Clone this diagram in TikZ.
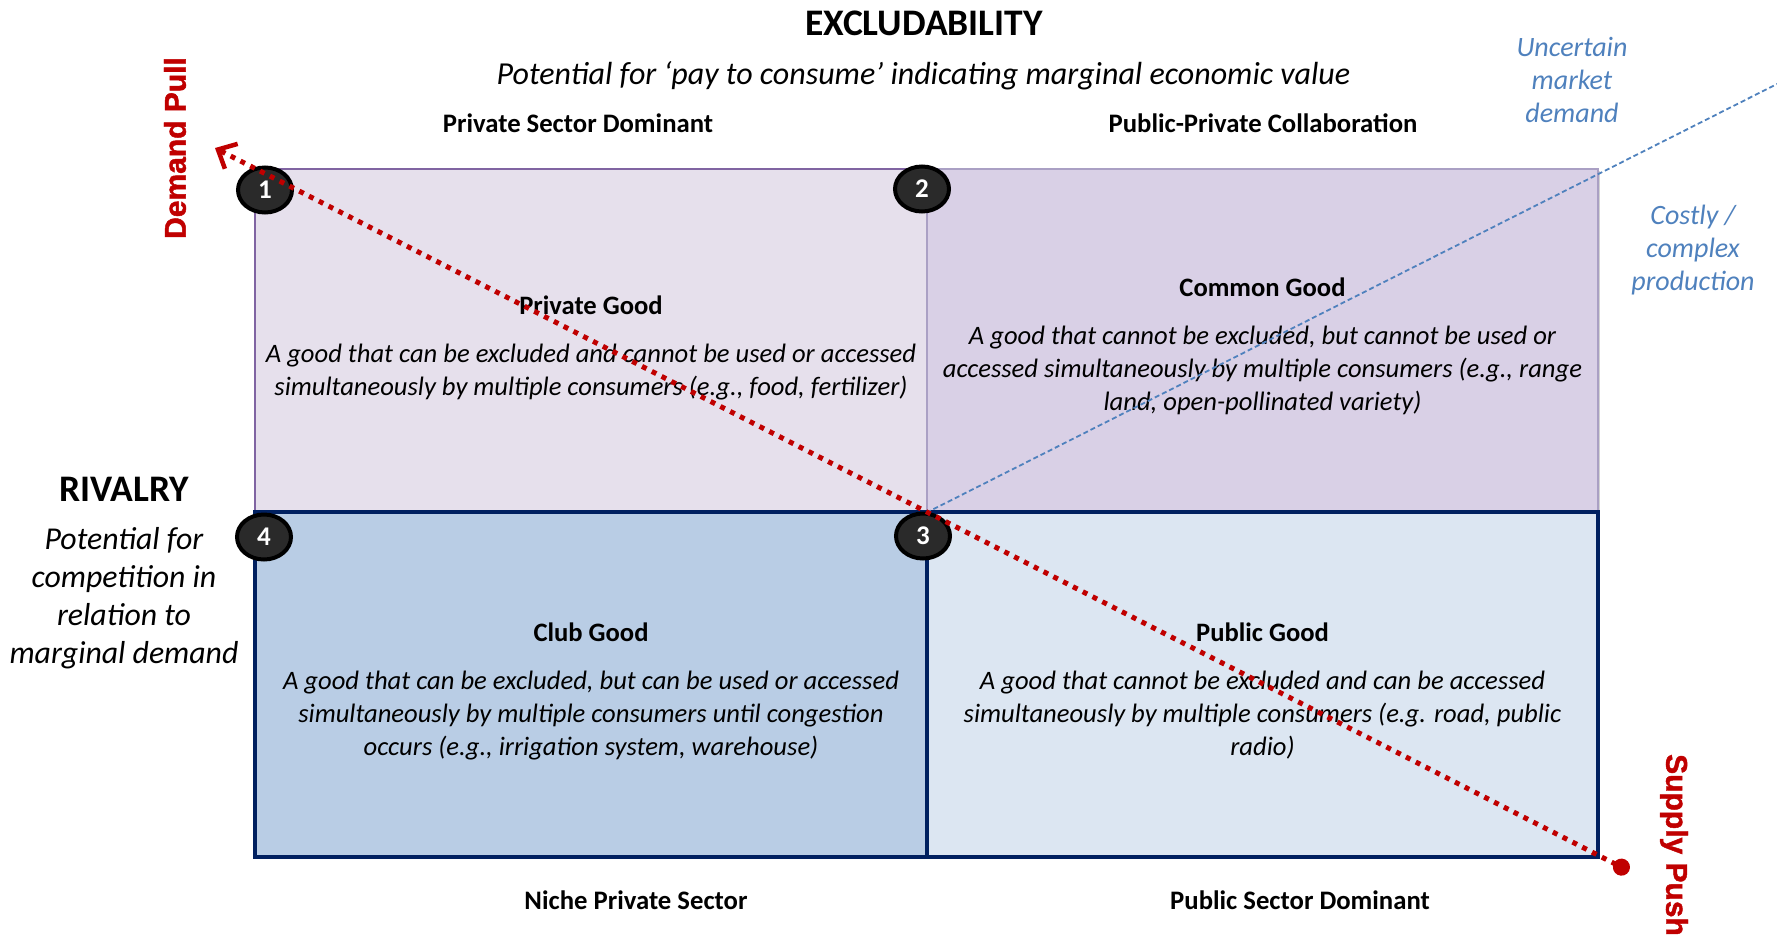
\documentclass[tikz,border=0pt]{standalone}
\usepackage{fontspec}
\setmainfont{Carlito}
\newfontfamily\pushfont[FakeBold=1.5]{Liberation Sans Bold}
\usetikzlibrary{arrows.meta,shapes.geometric,shadows,positioning}

\definecolor{privfill}{RGB}{230,224,236}
\definecolor{privline}{RGB}{128,100,162}
\definecolor{commfill}{RGB}{217,208,230}
\definecolor{commline}{RGB}{170,160,196}
\definecolor{clubfill}{RGB}{185,205,229}
\definecolor{pubfill}{RGB}{220,230,242}
\definecolor{navy}{RGB}{0,32,96}
\definecolor{pullred}{RGB}{192,0,0}
\definecolor{noteblue}{RGB}{79,129,189}
\definecolor{badge}{RGB}{42,42,42}

\begin{document}
\begin{tikzpicture}[x=10pt,y=10pt]
\tikzstyle{every node}+=[inner sep=0pt]
\tikzstyle{cell}=[rectangle,minimum width=672pt,minimum height=343pt]
\tikzstyle{badgenode}=[ellipse,minimum width=54pt,minimum height=45pt,fill=badge,draw=black,line width=4pt,text=white,font=\fontsize{27}{27}\selectfont\bfseries]
\tikzstyle{desc}=[align=center,font=\fontsize{26.6}{33}\selectfont\itshape]
\tikzstyle{axis}=[font=\fontsize{37.5}{37.5}\selectfont\bfseries]
\tikzstyle{sector}=[font=\fontsize{26.7}{26.7}\selectfont\bfseries]
\tikzstyle{note}=[align=center,text=noteblue,font=\fontsize{28}{33}\selectfont\itshape]
\tikzstyle{force}=[text=pullred,font=\fontsize{30}{30}\selectfont\pushfont]
\useasboundingbox (0,0) rectangle (177.7,-93.5);

% quadrants
\draw (59.1,-34.05) node [cell,fill=privfill,draw=privline,line width=1.5pt] (privcell) {};
\draw (126.25,-34.05) node [cell,minimum width=671pt,fill=commfill,draw=commline,line width=1.5pt,
  drop shadow={shadow xshift=2pt,shadow yshift=-2pt,opacity=0.35}] (commcell) {};
\draw (59.1,-68.45) node [cell,minimum height=345pt,fill=clubfill,draw=navy,line width=3.5pt] (clubcell) {};
\draw (126.25,-68.45) node [cell,minimum width=671pt,minimum height=345pt,fill=pubfill,draw=navy,line width=3.5pt] (pubcell) {};

% headings
\draw (92.4,-2.35) node [axis] (excl) {EXCLUDABILITY};
\draw (92.35,-7.6) node [font=\fontsize{32}{32}\selectfont\itshape] (exclsub) {Potential for ‘pay to consume’ indicating marginal economic value};
\draw (57.8,-12.3) node [sector] (topleft) {Private Sector Dominant};
\draw (126.3,-12.3) node [sector] (topright) {Public-Private Collaboration};
\draw (63.6,-90.0) node [sector] (botleft) {Niche Private Sector};
\draw (130.0,-90.0) node [sector] (botright) {Public Sector Dominant};
\draw (12.4,-48.9) node [axis] (riv) {RIVALRY};
\draw (12.4,-59.85) node [align=center,font=\fontsize{31.8}{38}\selectfont\itshape] (rivsub) {Potential for\\competition in\\relation to\\marginal demand};
\draw (157.2,-8.0) node [note] (uncert) {Uncertain\\market\\demand};
\draw (169.3,-25.0) node [note] (costly) {Costly /\\complex\\production};
\draw (17.5,-14.8) node [force,rotate=90] (pulltxt) {Demand Pull};
\draw (167.4,-84.5) node [force,rotate=-90] (pushtxt) {Supply Push};

% quadrant texts
\draw (59.1,-34.75) node [desc] (privtxt) {{\bfseries\upshape Private Good}\\[15pt]
  A good that can be excluded and cannot be used or accessed\\
  simultaneously by multiple consumers (e.g., food, fertilizer)};
\draw (126.25,-34.65) node [desc] (commtxt) {{\bfseries\upshape Common Good}\\[15pt]
  A good that cannot be excluded, but cannot be used or\\
  accessed simultaneously by multiple consumers (e.g., range\\
  land, open-pollinated variety)};
\draw (59.1,-69.1) node [desc] (clubtxt) {{\bfseries\upshape Club Good}\\[15pt]
  A good that can be excluded, but can be used or accessed\\
  simultaneously by multiple consumers until congestion\\
  occurs (e.g., irrigation system, warehouse)};
\draw (126.25,-69.1) node [desc] (pubtxt) {{\bfseries\upshape Public Good}\\[15pt]
  A good that cannot be excluded and can be accessed\\
  simultaneously by multiple consumers (e.g. road, public\\
  radio)};

% numbered corners
\draw (26.5,-19.0) node [badgenode] (n1) {1};
\draw (92.2,-18.9) node [badgenode] (n2) {2};
\draw (92.3,-53.6) node [badgenode] (n3) {3};
\draw (26.4,-53.7) node [badgenode] (n4) {4};

% demand pull / supply push
\coordinate (pull) at (21.5,-14.8);
\coordinate (push) at (162.9,-87.1);
\coordinate (far) at (177.7,-8.4);
\draw [noteblue,line width=1.8pt,dash pattern=on 5pt off 3pt] (commcell.south west) -- (far);
\draw [pullred,line width=5pt,dash pattern=on 5pt off 6pt,
  {Circle[length=17pt]}-{Straight Barb[length=15pt,width=28pt,line width=4.5pt]}] (push) -- (pull);
\end{tikzpicture}
\end{document}
